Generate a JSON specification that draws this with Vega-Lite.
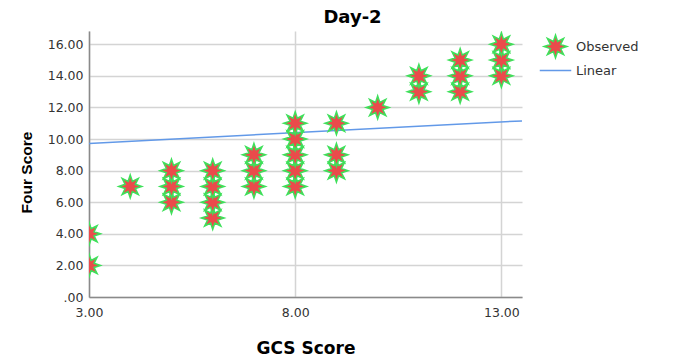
{
  "$schema": "https://vega.github.io/schema/vega-lite/v6.json",
  "width": 433,
  "height": 266,
  "autosize": {"type": "none"},
  "padding": {"left": 89, "top": 31, "right": 157, "bottom": 63},
  "background": "white",
  "title": {
    "text": "Day-2",
    "anchor": "middle",
    "dx": 47,
    "dy": 18,
    "font": "DejaVu Sans",
    "fontSize": 18,
    "fontWeight": "bold",
    "color": "#000000",
    "baseline": "alphabetic",
    "offset": 8
  },
  "config": {
    "view": {"stroke": null},
    "axis": {
      "labelFont": "DejaVu Sans",
      "labelFontSize": 12.5,
      "labelColor": "#333333",
      "labelOverlap": false,
      "labelFlush": false,
      "titleFont": "DejaVu Sans",
      "titleFontWeight": "bold",
      "titleColor": "#000000",
      "ticks": false,
      "domainColor": "#8a8a8a",
      "domainWidth": 1.5,
      "gridColor": "#d4d4d4",
      "gridWidth": 1.5
    },
    "legend": {
      "padding": 0,
      "title": null,
      "orient": "none",
      "legendX": 457,
      "legendY": 6,
      "labelFont": "DejaVu Sans",
      "labelFontSize": 13,
      "labelColor": "#333333",
      "labelOffset": 11,
      "rowPadding": -6,
      "symbolSize": 306,
      "symbolStrokeWidth": 1.5
    }
  },
  "datasets": {
    "obs": [
      {"gcs": 3, "four": 2, "series": "Observed"},
      {"gcs": 3, "four": 4, "series": "Observed"},
      {"gcs": 4, "four": 7, "series": "Observed"},
      {"gcs": 5, "four": 6, "series": "Observed"},
      {"gcs": 5, "four": 7, "series": "Observed"},
      {"gcs": 5, "four": 8, "series": "Observed"},
      {"gcs": 6, "four": 5, "series": "Observed"},
      {"gcs": 6, "four": 6, "series": "Observed"},
      {"gcs": 6, "four": 7, "series": "Observed"},
      {"gcs": 6, "four": 8, "series": "Observed"},
      {"gcs": 7, "four": 7, "series": "Observed"},
      {"gcs": 7, "four": 8, "series": "Observed"},
      {"gcs": 7, "four": 9, "series": "Observed"},
      {"gcs": 8, "four": 7, "series": "Observed"},
      {"gcs": 8, "four": 8, "series": "Observed"},
      {"gcs": 8, "four": 9, "series": "Observed"},
      {"gcs": 8, "four": 10, "series": "Observed"},
      {"gcs": 8, "four": 11, "series": "Observed"},
      {"gcs": 9, "four": 8, "series": "Observed"},
      {"gcs": 9, "four": 9, "series": "Observed"},
      {"gcs": 9, "four": 11, "series": "Observed"},
      {"gcs": 10, "four": 12, "series": "Observed"},
      {"gcs": 11, "four": 13, "series": "Observed"},
      {"gcs": 11, "four": 14, "series": "Observed"},
      {"gcs": 12, "four": 13, "series": "Observed"},
      {"gcs": 12, "four": 14, "series": "Observed"},
      {"gcs": 12, "four": 15, "series": "Observed"},
      {"gcs": 13, "four": 14, "series": "Observed"},
      {"gcs": 13, "four": 15, "series": "Observed"},
      {"gcs": 13, "four": 16, "series": "Observed"}
    ],
    "fit": [
      {"gcs": 3, "four": 9.72, "series": "Linear"},
      {"gcs": 13.5, "four": 11.15, "series": "Linear"}
    ]
  },
  "encoding": {
    "x": {
      "field": "gcs", "type": "quantitative",
      "scale": {"domain": [3, 13.5], "nice": false, "zero": false},
      "axis": {
        "title": "GCS Score",
        "titleFontSize": 17,
        "values": [3, 8, 13],
        "format": ".2f",
        "labelPadding": 9,
        "titlePadding": 22,
        "grid": true
      }
    },
    "y": {
      "field": "four", "type": "quantitative",
      "scale": {"domain": [0, 16.84], "nice": false},
      "axis": {
        "title": "Four Score",
        "titleFont": "Liberation Sans",
        "titleFontSize": 15.5,
        "titleY": 141,
        "titlePadding": 13,
        "values": [0, 2, 4, 6, 8, 10, 12, 14, 16],
        "tickCount": 9,
        "labelExpr": "datum.value == 0 ? '.00' : format(datum.value, '.2f')",
        "labelOverlap": false,
        "labelBound": false,
        "labelPadding": 6,
        "grid": true
      }
    }
  },
  "layer": [
    {
      "data": {"name": "fit"},
      "mark": {"type": "line", "strokeWidth": 1.5, "clip": true},
      "encoding": {
        "stroke": {
          "field": "series", "type": "nominal",
          "scale": {"domain": ["Observed", "Linear"], "range": ["#3ee05a", "#6299e8"]}
        }
      }
    },
    {
      "data": {"name": "obs"},
      "mark": {"type": "point", "filled": true, "opacity": 1, "strokeWidth": 1.5, "size": 306, "clip": true},
      "encoding": {
        "fill": {
          "field": "series", "type": "nominal",
          "scale": {"domain": ["Observed", "Linear"], "range": ["#ea4b4b", "transparent"]}
        },
        "stroke": {"field": "series", "type": "nominal"},
        "shape": {
          "field": "series", "type": "nominal",
          "scale": {
            "domain": ["Observed", "Linear"],
            "range": [
              "M0,-1.31L0.241,-0.582L0.926,-0.926L0.582,-0.241L1.31,0L0.582,0.241L0.926,0.926L0.241,0.582L0,1.31L-0.241,0.582L-0.926,0.926L-0.582,0.241L-1.31,0L-0.582,-0.241L-0.926,-0.926L-0.241,-0.582Z",
              "M-1.8,0L1.8,0"
            ]
          }
        }
      }
    }
  ]
}
